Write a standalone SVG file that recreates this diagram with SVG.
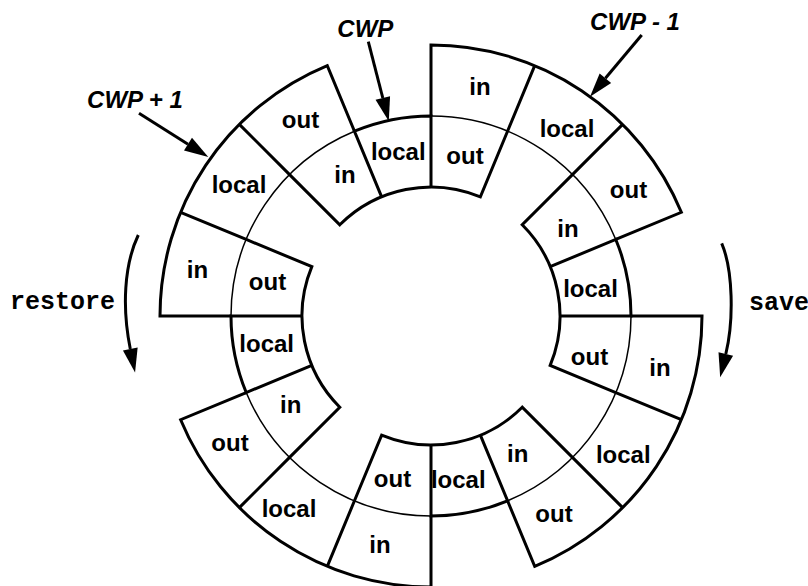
<svg xmlns="http://www.w3.org/2000/svg" width="808" height="586" viewBox="0 0 808 586">
  <style>
    .thick { fill: none; stroke: #000; stroke-width: 3; stroke-linejoin: miter; }
    .thin { fill: none; stroke: #000; stroke-width: 1.5; }
    .reg { font-family: "Liberation Sans", Arial, sans-serif; font-weight: bold; font-size: 24px; text-anchor: middle; fill: #000; }
    .ptr { font-family: "Liberation Sans", Arial, sans-serif; font-weight: bold; font-style: italic; font-size: 24px; text-anchor: middle; fill: #000; }
    .op { font-family: "Liberation Mono", "Courier New", monospace; font-weight: bold; font-size: 25px; fill: #000; }
    .arrow { fill: none; stroke: #000; stroke-width: 3; }
  </style>
  <defs>
    <!-- filled arrowhead, reference point at its base -->
    <marker id="head" markerUnits="userSpaceOnUse" markerWidth="26" markerHeight="16" refX="0" refY="7.5" orient="auto" overflow="visible">
      <path d="M0,0 L24,7.5 L0,15 z" fill="#000"/>
    </marker>
    <!-- outer-ring window spanning 0..67.5 deg: in / local / out -->
    <g id="outerWin">
      <path class="thick" d="M0,-200 L0,-271 A271,271 0 0 1 250.37,-103.71 L184.78,-76.54"/>
      <path class="thick" d="M76.54,-184.78 L103.71,-250.37 M141.42,-141.42 L191.63,-191.63"/>
      <path class="thin" d="M0,-200 A200,200 0 0 1 184.78,-76.54"/>
    </g>
    <!-- inner-ring window spanning 45..112.5 deg: in / local / out -->
    <g id="innerWin">
      <path class="thick" d="M141.42,-141.42 L91.22,-91.22 A129,129 0 0 1 119.18,49.37 L184.78,76.54"/>
      <path class="thick" d="M119.18,-49.37 L184.78,-76.54 A200,200 0 0 1 200,0 L129,0"/>
    </g>
  </defs>

  <!-- register windows, clockwise from the top -->
  <g id="win-cwp-minus1">
    <use href="#outerWin" transform="translate(431,316)"/>
    <text class="reg" x="480" y="95">in</text>
    <text class="reg" x="567" y="136.7">local</text>
    <text class="reg" x="628.5" y="198.3">out</text>
  </g>
  <g id="win-cwp-minus2">
    <use href="#innerWin" transform="translate(431,316)"/>
    <text class="reg" x="568" y="236.7">in</text>
    <text class="reg" x="590.5" y="296.7">local</text>
    <text class="reg" x="589.5" y="365">out</text>
  </g>
  <g id="win-cwp-minus3">
    <use href="#outerWin" transform="translate(431,316) rotate(90)"/>
    <text class="reg" x="660" y="376">in</text>
    <text class="reg" x="623.3" y="463.3">local</text>
    <text class="reg" x="554" y="522.3">out</text>
  </g>
  <g id="win-cwp-minus4">
    <use href="#innerWin" transform="translate(431,316) rotate(90)"/>
    <text class="reg" x="517.7" y="461.7">in</text>
    <text class="reg" x="458.3" y="488.3">local</text>
    <text class="reg" x="392.5" y="486.7">out</text>
  </g>
  <g id="win-cwp-minus5">
    <use href="#outerWin" transform="translate(431,316) rotate(180)"/>
    <text class="reg" x="380" y="553.3">in</text>
    <text class="reg" x="289" y="516.7">local</text>
    <text class="reg" x="230" y="450.7">out</text>
  </g>
  <g id="win-cwp-plus2">
    <use href="#innerWin" transform="translate(431,316) rotate(180)"/>
    <text class="reg" x="290.7" y="412.7">in</text>
    <text class="reg" x="266.7" y="351.7">local</text>
    <text class="reg" x="267.5" y="290">out</text>
  </g>
  <g id="win-cwp-plus1">
    <use href="#outerWin" transform="translate(431,316) rotate(270)"/>
    <text class="reg" x="197.5" y="278.3">in</text>
    <text class="reg" x="239" y="193.3">local</text>
    <text class="reg" x="300.5" y="127.7">out</text>
  </g>
  <g id="win-cwp">
    <use href="#innerWin" transform="translate(431,316) rotate(270)"/>
    <text class="reg" x="345" y="183.3">in</text>
    <text class="reg" x="398.3" y="160">local</text>
    <text class="reg" x="465" y="164">out</text>
  </g>

  <!-- window pointer labels -->
  <g id="label-cwp"><text class="ptr" x="365.3" y="36.7">CWP</text></g>
  <g id="label-cwp-minus1"><text class="ptr" x="635" y="30">CWP - 1</text></g>
  <g id="label-cwp-plus1"><text class="ptr" x="135" y="107.7">CWP + 1</text></g>
  <g id="label-restore"><text class="op" x="10" y="309">restore</text></g>
  <g id="label-save"><text class="op" x="749" y="310">save</text></g>

  <!-- connectors -->
  <g id="connectors">
    <path class="arrow" d="M368.3,41.7 L382.8,98" marker-end="url(#head)"/>
    <path class="arrow" d="M641.7,35 L605.4,78.3" marker-end="url(#head)"/>
    <path class="arrow" d="M139,113.3 L188,144.2" marker-end="url(#head)"/>
    <path class="arrow" d="M138.3,235 C124,265 122,308 130.3,349" marker-end="url(#head)"/>
    <path class="arrow" d="M721.7,243.3 C733,270 734,320 725.8,354" marker-end="url(#head)"/>
  </g>
</svg>
